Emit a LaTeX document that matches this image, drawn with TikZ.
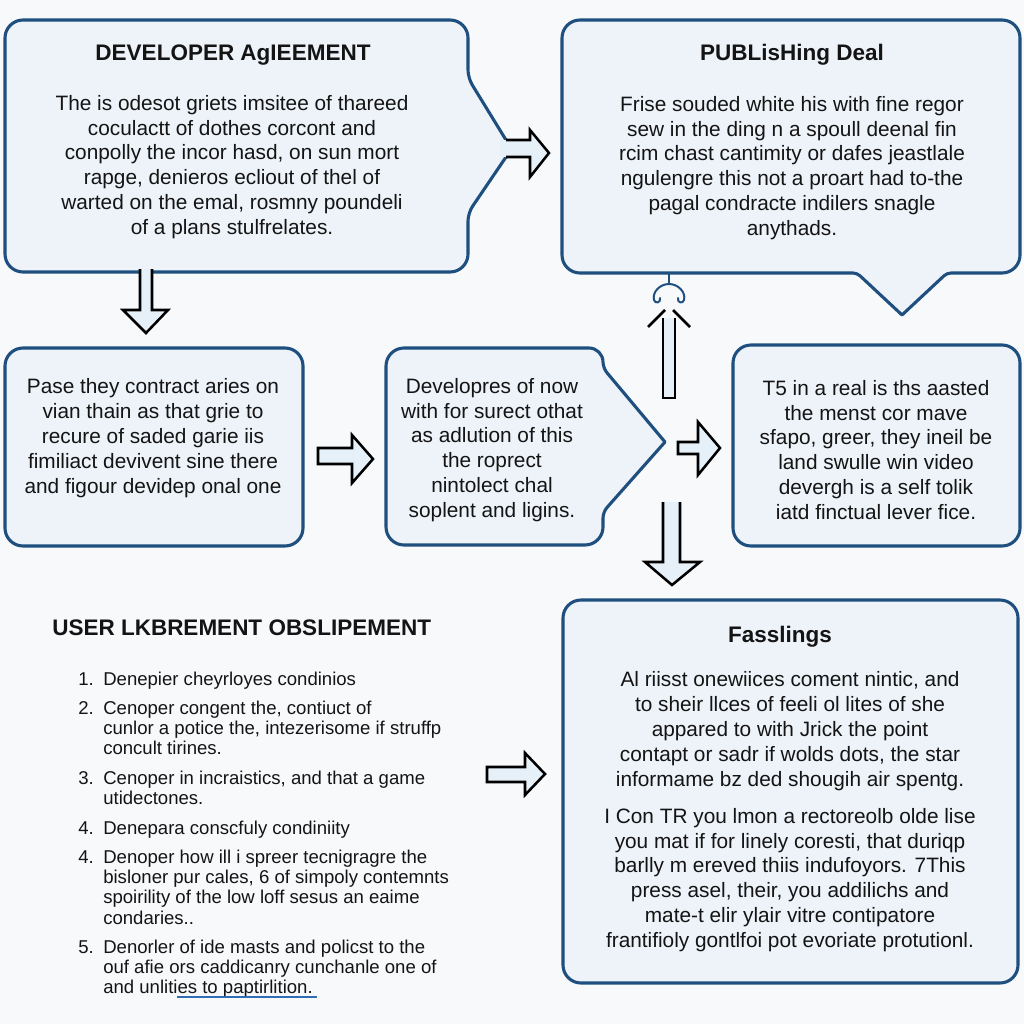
\documentclass[tikz,border=0pt]{standalone}
\usepackage{fontspec}
\setmainfont{Liberation Sans}
\usepackage{tikz}
\usepackage{xcolor}
\usetikzlibrary{positioning}

\definecolor{pagebg}{HTML}{F7F9FB}
\definecolor{boxfill}{HTML}{EDF3F9}
\definecolor{boxblue}{HTML}{1F4F7E}
\definecolor{arrfill}{HTML}{E6F0F9}
\definecolor{ink}{HTML}{141414}
\definecolor{ulblue}{HTML}{2F6DB5}

\begin{document}
\begin{tikzpicture}[
          x=0.025cm, y=-0.025cm,
          bx/.style={draw=boxblue, line width=2.2pt, fill=boxfill, rounded corners=0.45cm},
          bxline/.style={draw=boxblue, line width=2.2pt, line join=round},
          blk/.style={draw=black, line width=1.8pt, fill=arrfill},
          ttl/.style={font=\fontsize{16}{19}\selectfont\bfseries, text=ink, inner sep=0pt},
          txt/.style={font=\fontsize{14.8}{17.7}\selectfont, text=ink, align=center, inner sep=0pt},
          itm/.style={font=\fontsize{13.2}{14.3}\selectfont, text=ink, align=left, inner sep=0pt, anchor=north west}
      ]
        \useasboundingbox (0,0) rectangle (1024,1024);
        \fill[pagebg] (0,0) rectangle (1024,1024);

        \draw[bxline, fill=boxfill] (5,146) [rounded corners=0.45cm] -- (5,20) -- (468,20) [rounded corners=0.2cm] -- (468,78) [sharp corners] -- (506,140) -- (506,157) [rounded corners=0.2cm] -- (468,213) [rounded corners=0.45cm] -- (468,272) -- (5,272) -- cycle;
        \fill[arrfill] (500,140) rectangle (530,157);
        \draw[blk] (506,140) -- (530,140) -- (530,130) -- (549,153) -- (530,177) -- (530,157) -- (506,157);
        \node[ttl] (t1) at (233,55) {DEVELOPER AgIEEMENT};
        \node[txt] (b1) at (232,167) {The is odesot griets imsitee of thareed\\coculactt of dothes corcont and\\conpolly the incor hasd, on sun mort\\rapge, denieros ecliout of thel of\\warted on the emal, rosmny poundeli\\of a plans stulfrelates.};
        \draw[blk] (140,269) -- (140,310) -- (123,310) -- (146,333) -- (168,310) -- (152,310) -- (152,269);

        \draw[bxline, fill=boxfill] (562,146) [rounded corners=0.45cm] -- (562,20) -- (1020,20) -- (1020,273) [rounded corners=0.1cm] -- (947,273) [sharp corners] -- (902,315) [rounded corners=0.1cm] -- (857,273) [rounded corners=0.45cm] -- (562,273) -- cycle;
        \node[ttl] (t2) at (792,55) {PUBLisHing Deal};
        \node[txt] (b2) at (792,168) {Frise souded white his with fine regor\\sew in the ding n a spoull deenal fin\\rcim chast cantimity or dafes jeastlale\\ngulengre this not a proart had to-the\\pagal condracte indilers snagle\\anythads.};
        \draw[boxblue, line width=1.4pt, line cap=round] (669,273) -- (669,284) .. controls (660,284) and (652,292) .. (654,300) .. controls (655,304) and (661,303) .. (660,298);
        \draw[boxblue, line width=1.4pt, line cap=round] (669,284) .. controls (678,284) and (686,292) .. (684,300) .. controls (683,304) and (677,303) .. (678,298);
        \draw[blk] (663,318) -- (663,398) -- (675,398) -- (675,318);
        \draw[black, line width=1.8pt] (648,327) -- (665,310);
        \draw[black, line width=1.8pt] (673,310) -- (690,327);

        \draw[bx] (5,348) rectangle (303,546);
        \node[txt] (b3) at (153,438) {Pase they contract aries on\\vian thain as that grie to\\recure of saded garie iis\\fimiliact devivent sine there\\and figour devidep onal one};
        \draw[blk] (318,448) -- (352,448) -- (352,435) -- (373,459) -- (352,483) -- (352,464) -- (318,464) -- cycle;

        \draw[bxline, fill=boxfill] (386,446) [rounded corners=0.45cm] -- (386,348) [rounded corners=0.35cm] -- (603,348) [rounded corners=0.15cm] -- (603,368) [sharp corners] -- (665,442) [rounded corners=0.15cm] -- (603,512) [rounded corners=0.45cm] -- (603,545) -- (386,545) -- cycle;
        \node[txt] (b4) at (492,450) {Developres of now\\with for surect othat\\as adlution of this\\the roprect\\nintolect chal\\soplent and ligins.};
        \draw[blk] (678,442) -- (698,442) -- (698,422) -- (720,448) -- (698,475) -- (698,454) -- (678,454) -- cycle;
        \draw[blk] (663,502) -- (663,562) -- (645,562) -- (672,585) -- (700,562) -- (680,562) -- (680,502);

        \draw[bx] (733,345) rectangle (1020,546);
        \node[txt] (b5) at (876,450) {T5 in a real is ths aasted\\the menst cor mave\\sfapo, greer, they ineil be\\land swulle win video\\devergh is a self tolik\\iatd finctual lever fice.};

        \node[ttl, anchor=west] (ut) at (52,628) {USER LKBREMENT OBSLIPEMENT};
        \node[itm] (n1) at (78,672) {1.};
        \node[itm] (li1) at (103,672) {Denepier cheyrloyes condinios};
        \node[itm] (n2) at (78,701) {2.};
        \node[itm] (li2) at (103,701) {Cenoper congent the, contiuct of\\cunlor a potice the, intezerisome if struffp\\concult tirines.};
        \node[itm] (n3) at (78,771) {3.};
        \node[itm] (li3) at (103,771) {Cenoper in incraistics, and that a game\\utidectones.};
        \node[itm] (n4) at (78,821) {4.};
        \node[itm] (li4) at (103,821) {Denepara conscfuly condiniity};
        \node[itm] (n5) at (78,850) {4.};
        \node[itm] (li5) at (103,850) {Denoper how ill i spreer tecnigragre the\\bisloner pur cales, 6 of simpoly contemnts\\spoirility of the low loff sesus an eaime\\condaries..};
        \node[itm] (n6) at (78,940) {5.};
        \node[itm] (li6) at (103,940) {Denorler of ide masts and policst to the\\ouf afie ors caddicanry cunchanle one of\\and unlities to paptirlition.};
        \draw[ulblue, line width=0.8pt] (177,997) -- (317,997);

        \draw[blk] (487,767) -- (525,767) -- (525,753) -- (545,774) -- (525,795) -- (525,782) -- (487,782) -- cycle;

        \draw[bx] (563,600) rectangle (1018,983);
        \node[ttl] (t6) at (780,637) {Fasslings};
        \node[txt] (b6a) at (790,731) {Al riisst onewiices coment nintic, and\\to sheir llces of feeli ol lites of she\\appared to with Jrick the point\\contapt or sadr if wolds dots, the star\\informame bz ded shougih air spentg.};
        \node[txt] (b6b) at (790,880) {I Con TR you lmon a rectoreolb olde lise\\you mat if for linely coresti, that duriqp\\barlly m ereved thiis indufoyors. 7This\\press asel, their, you addilichs and\\mate-t elir ylair vitre contipatore\\frantifioly gontlfoi pot evoriate protutionl.};
      \end{tikzpicture}
\end{document}
